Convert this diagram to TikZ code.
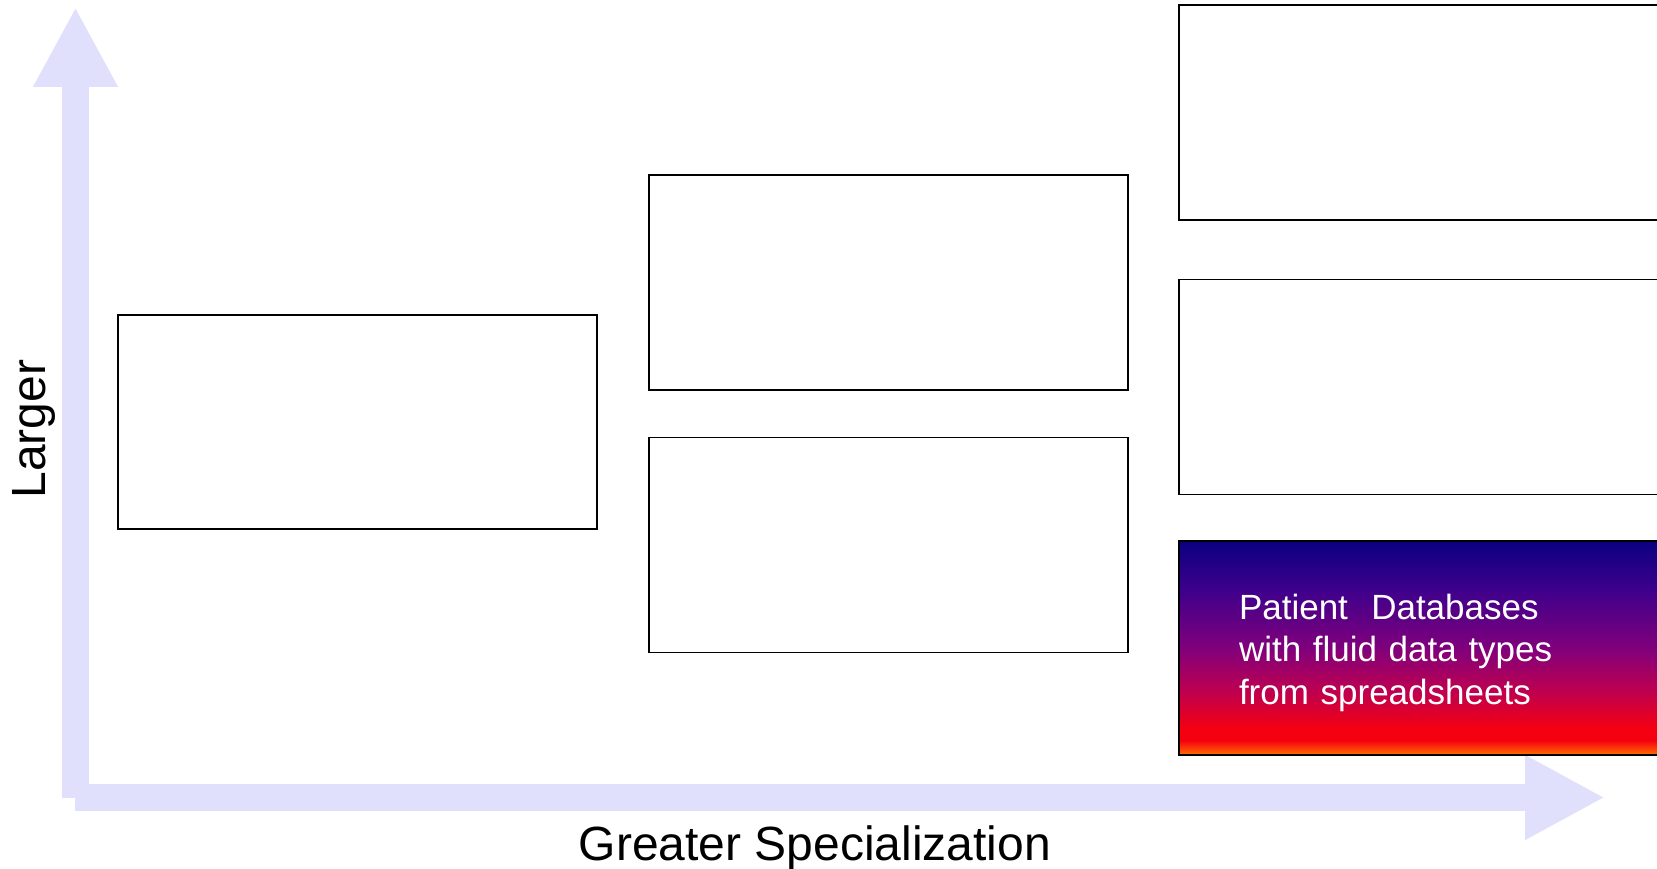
\documentclass[tikz,border=0pt]{standalone}
\usepackage{fontspec}
\setmainfont{Liberation Sans}
\usetikzlibrary{positioning, arrows.meta}
\definecolor{axisblue}{RGB}{224,224,252}
\definecolor{dbnavy}{RGB}{10,0,128}
\definecolor{dbindigo}{RGB}{60,0,140}
\definecolor{dbpurple}{RGB}{128,0,124}
\definecolor{dbcrimson}{RGB}{190,0,80}
\definecolor{dbred}{RGB}{245,0,16}
\definecolor{dborange}{RGB}{255,110,0}
\pgfdeclareverticalshading{dbfade}{100bp}{color(0bp)=(dborange); color(25bp)=(dborange);
  color(28.5bp)=(dbred); color(31bp)=(dbred); color(40bp)=(dbcrimson); color(50bp)=(dbpurple);
  color(64bp)=(dbindigo); color(75bp)=(dbnavy); color(100bp)=(dbnavy)}

\begin{document}
\begin{tikzpicture}[x=1pt,y=-1pt,
  box/.style={draw,line width=1.5pt,minimum width=479pt,minimum height=214pt,inner sep=0pt},
  widebox/.style={box,minimum width=485pt},
  axis/.style={axisblue,line width=27pt,-{Triangle[length=80pt,width=79pt]}},
  axislabel/.style={font=\fontsize{48}{58}\selectfont,inner sep=0pt}]
\useasboundingbox (0,0) rectangle (1657,869);
\clip (0,0) rectangle (1657,869);

% axes
\coordinate (ybot) at (75.5,798);
\coordinate (ytop) at (75.5,7);
\coordinate (xleft) at (75,797.5);
\coordinate (xright) at (1605,797.5);
\draw[axis] (ybot) -- (ytop);
\draw[axis] (xleft) -- (xright);
\node[axislabel,rotate=90,anchor=base] (larger) at (45,429) {Larger};
\node[axislabel,anchor=base] (special) at (815,860) {Greater Specialization};

% boxes
\node[box] (gen) at (357.5,422) {};
\node[box,minimum height=215pt] (midtop) at (888.5,282.5) {};
\node[box,minimum height=215pt] (midbot) [below=46pt of midtop] {};
\node[widebox,minimum height=215pt] (spectop) at (1421.5,112.5) {};
\node[widebox,minimum height=215pt] (specmid) [below=58pt of spectop] {};
\node[widebox,minimum height=214pt,shading=dbfade,text=white,align=left,
  text width=365pt,inner xsep=60pt,font=\fontsize{35}{42.5}\selectfont]
  (patientdb) [below=45pt of specmid]
  {\rule{0pt}{35pt}Patient~ Databases\\with fluid data types\\from spreadsheets};
\end{tikzpicture}
\end{document}
